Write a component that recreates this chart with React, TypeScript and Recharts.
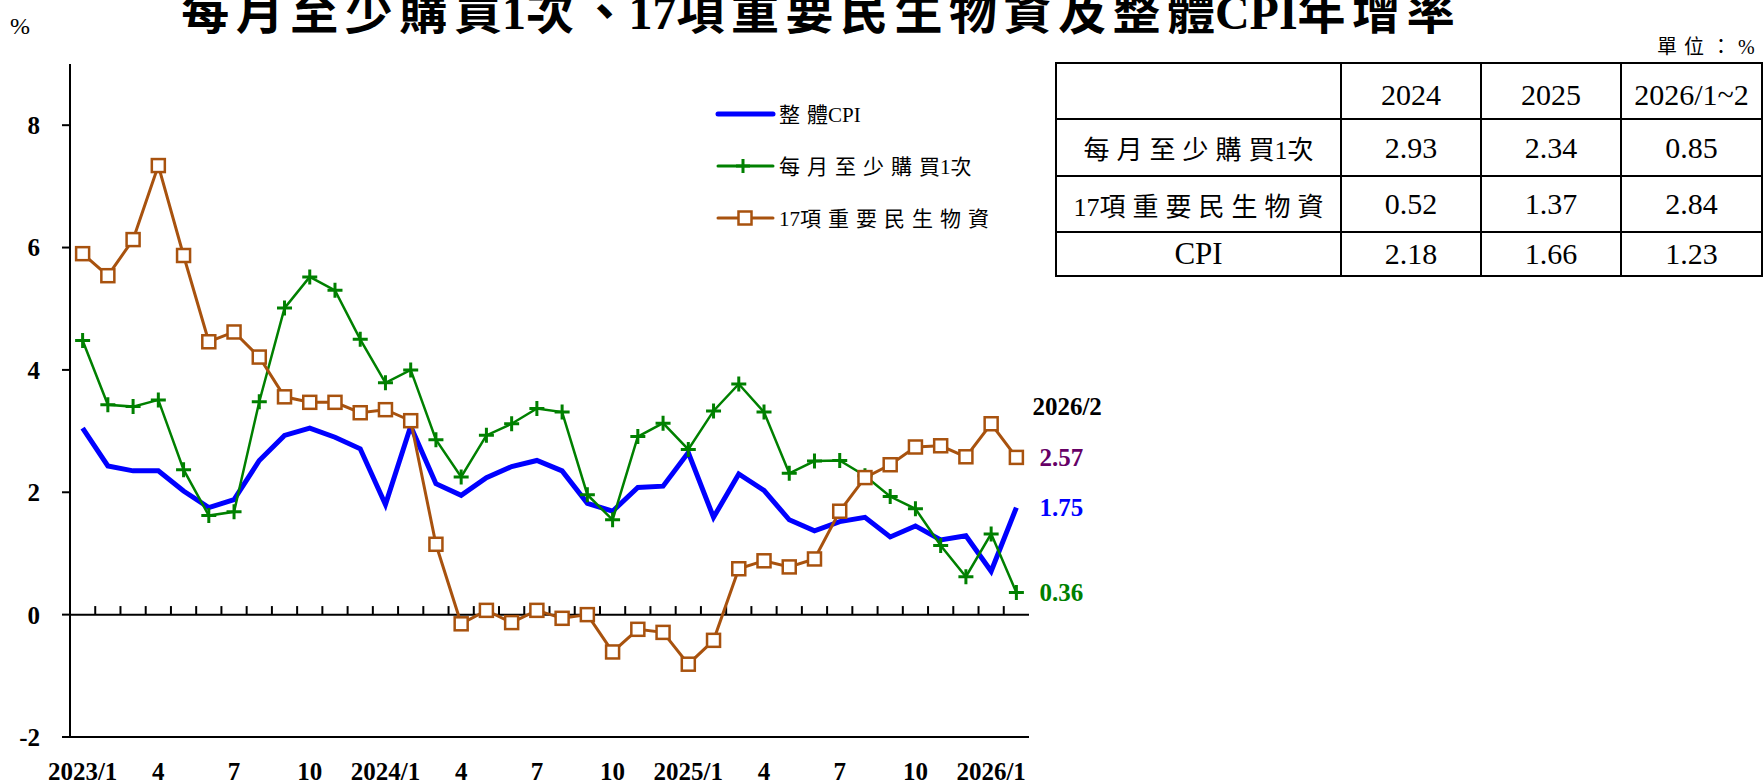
import React from 'react';
import { ComposedChart, Line, XAxis, YAxis, ReferenceLine, LabelList } from 'recharts';

// ---------- data ----------
const months = [
  '2023/1', '2023/2', '2023/3', '2023/4', '2023/5', '2023/6', '2023/7', '2023/8', '2023/9', '2023/10', '2023/11', '2023/12',
  '2024/1', '2024/2', '2024/3', '2024/4', '2024/5', '2024/6', '2024/7', '2024/8', '2024/9', '2024/10', '2024/11', '2024/12',
  '2025/1', '2025/2', '2025/3', '2025/4', '2025/5', '2025/6', '2025/7', '2025/8', '2025/9', '2025/10', '2025/11', '2025/12',
  '2026/1', '2026/2',
];

// 整體CPI
const cpiValues = [
  3.05, 2.43, 2.35, 2.35, 2.02, 1.75, 1.88, 2.52, 2.93, 3.05, 2.90, 2.71,
  1.80, 3.08, 2.14, 1.95, 2.24, 2.42, 2.52, 2.35, 1.82, 1.69, 2.08, 2.10,
  2.65, 1.59, 2.30, 2.03, 1.55, 1.37, 1.52, 1.59, 1.27, 1.45, 1.22, 1.29,
  0.71, 1.75,
];

// 每月至少購買1次
const monthlyValues = [
  4.48, 3.43, 3.40, 3.51, 2.37, 1.62, 1.68, 3.48, 5.01, 5.52, 5.30, 4.50,
  3.79, 4.00, 2.86, 2.25, 2.93, 3.12, 3.37, 3.31, 1.96, 1.55, 2.91, 3.13,
  2.70, 3.33, 3.77, 3.31, 2.31, 2.51, 2.52, 2.27, 1.93, 1.73, 1.13, 0.62,
  1.32, 0.36,
];

// 17項重要民生物資
const essentialValues = [
  5.90, 5.54, 6.13, 7.34, 5.87, 4.46, 4.62, 4.21, 3.56, 3.47, 3.47, 3.30,
  3.35, 3.17, 1.15, -0.15, 0.07, -0.13, 0.07, -0.06, 0.00, -0.61, -0.24, -0.29,
  -0.81, -0.42, 0.75, 0.88, 0.78, 0.91, 1.69, 2.24, 2.45, 2.74, 2.76, 2.58,
  3.12, 2.57,
];

const yTicks = [-2, 0, 2, 4, 6, 8];
const yDomain = [-2, 9];

const seriesNames = ['整體CPI', '每月至少購買1次', '17項重要民生物資'];
const lastMonthLabel = '2026/2';

const tableColumns = ['2024', '2025', '2026/1~2'];
const tableRowNames = ['每月至少購買1次', '17項重要民生物資', 'CPI'];
const tableMonthlyRow = [2.93, 2.34, 0.85];
const tableEssentialRow = [0.52, 1.37, 2.84];
const tableCpiRow = [2.18, 1.66, 1.23];

const titleText = '每月至少購買1次、17項重要民生物資及整體CPI年增率';
const unitText = '單位：%';

// ---------- styles ----------
const BLUE = '#0000FF';
const GREEN = '#008000';
const BROWN = '#A8520E';
const PURPLE = '#660066';
const SERIF = "'Liberation Serif', 'Times New Roman', serif";
const MIXED = "'Liberation Serif', 'Noto Sans CJK TC', serif";

const chartData = months.map((m, i) => ({
  month: m,
  cpi: cpiValues[i],
  monthly: monthlyValues[i],
  essential: essentialValues[i],
}));

const lastIndex = months.length - 1;

const formatMonth = (m: string) => (m.endsWith('/1') ? m : m.split('/')[1]);

// letter spacing only between two consecutive CJK glyphs
const isWide = (ch: string) => /[\u3000-\u9fff\uff00-\uffef]/.test(ch);
const splitRuns = (text: string) => {
  const chars = Array.from(text);
  const out: { text: string; spaced: boolean }[] = [];
  chars.forEach((ch, i) => {
    const next = chars[i + 1];
    const spaced = isWide(ch) && next !== undefined && isWide(next);
    const last = out[out.length - 1];
    if (last && last.spaced === spaced) last.text += ch;
    else out.push({ text: ch, spaced });
  });
  return out;
};
const svgRuns = (text: string, ls: number) =>
  splitRuns(text).map((r, i) => (
    <tspan key={i} style={{ letterSpacing: r.spaced ? ls : 0 }}>
      {r.text}
    </tspan>
  ));
const htmlRuns = (text: string, ls: number) =>
  splitRuns(text).map((r, i) => (
    <span key={i} style={{ letterSpacing: r.spaced ? ls : 0 }}>
      {r.text}
    </span>
  ));

const PlusDot = (props: any) => {
  const { cx, cy, index } = props;
  if (cx == null || cy == null) return <g key={`p-${index}`} />;
  const h = 7.5;
  return (
    <path
      key={`p-${index}`}
      d={`M${cx - h},${cy}H${cx + h}M${cx},${cy - h}V${cy + h}`}
      stroke={GREEN}
      strokeWidth={3}
      fill="none"
    />
  );
};

const SquareDot = (props: any) => {
  const { cx, cy, index } = props;
  if (cx == null || cy == null) return <g key={`s-${index}`} />;
  const h = 6.5;
  return (
    <rect
      key={`s-${index}`}
      x={cx - h}
      y={cy - h}
      width={2 * h}
      height={2 * h}
      fill="#fff"
      stroke={BROWN}
      strokeWidth={2.5}
    />
  );
};

const endLabel = (color: string, header?: string) => (props: any) => {
  const { x, y, value, index } = props;
  if (index !== lastIndex || x == null || y == null) return null;
  return (
    <g>
      {header ? (
        <text x={x + 16} y={y - 51} dy="0.35em" fill="#000" fontFamily={SERIF} fontWeight="bold" fontSize={25}>
          {header}
        </text>
      ) : null}
      <text x={x + 23} y={y} dy="0.35em" fill={color} fontFamily={SERIF} fontWeight="bold" fontSize={25}>
        {Number(value).toFixed(2)}
      </text>
    </g>
  );
};

const tickStyle = { fontFamily: SERIF, fontWeight: 'bold' as const, fontSize: 25, fill: '#000' };
const xTickStyle = { fontFamily: SERIF, fontWeight: 'bold' as const, fontSize: 25, fill: '#000' };

const legendItems = [
  { name: seriesNames[0], color: BLUE, width: 5, marker: 'none' },
  { name: seriesNames[1], color: GREEN, width: 3, marker: 'plus' },
  { name: seriesNames[2], color: BROWN, width: 3, marker: 'square' },
];

export default function App() {
  const cellBorder = '2px solid #000';
  const numStyle: React.CSSProperties = { fontFamily: SERIF, fontSize: 30, textAlign: 'center', border: cellBorder, padding: 0 };
  const nameStyle: React.CSSProperties = {
    fontFamily: MIXED,
    fontSize: 26,
    textAlign: 'center',
    border: cellBorder,
    padding: 0,
    whiteSpace: 'nowrap',
  };
  const tableRows = [tableMonthlyRow, tableEssentialRow, tableCpiRow];
  const rowHeights = [57, 56, 44];

  return (
    <div style={{ position: 'absolute', left: 0, top: 0, width: 1764, height: 780, overflow: 'hidden', background: '#fff' }}>
      {/* title, units */}
      <svg width={1764} height={80} style={{ position: 'absolute', left: 0, top: 0 }}>
        <text x={818} y={29} textAnchor="middle" fontFamily={MIXED} fontWeight="bold" fontSize={48} fill="#000">
          {svgRuns(titleText, 6.5)}
        </text>
        <text x={10} y={34} fontFamily={SERIF} fontSize={24} fill="#000">%</text>
        <text x={1657} y={54} fontFamily={MIXED} fontSize={20} letterSpacing={7} fill="#000">
          {unitText}
        </text>
      </svg>

      {/* chart */}
      <div style={{ position: 'absolute', left: 0, top: 0 }}>
        <ComposedChart width={1110} height={780} data={chartData} margin={{ top: 64, right: 81, left: 0, bottom: 0 }}>
          <XAxis
            dataKey="month"
            scale="band"
            height={43}
            interval={2}
            tickFormatter={formatMonth}
            tickLine={false}
            tickSize={0}
            tickMargin={25}
            axisLine={{ stroke: '#000', strokeWidth: 2 }}
            tick={xTickStyle}
          />
          <XAxis
            xAxisId="top"
            orientation="top"
            dataKey="month"
            scale="band"
            height={0}
            tick={false}
            tickLine={false}
            axisLine={{ stroke: '#000', strokeWidth: 2 }}
          />
          <YAxis
            width={70}
            domain={yDomain}
            ticks={yTicks}
            tickSize={8}
            tickMargin={22}
            tickLine={{ stroke: '#000', strokeWidth: 2 }}
            axisLine={{ stroke: '#000', strokeWidth: 2 }}
            tick={tickStyle}
            allowDataOverflow
          />
          <YAxis
            yAxisId="right"
            orientation="right"
            width={0}
            domain={yDomain}
            tick={false}
            tickLine={false}
            axisLine={{ stroke: '#000', strokeWidth: 2 }}
          />
          <ReferenceLine y={0} stroke="#000" strokeWidth={2} />
          {months.slice(1).map((m) => (
            <ReferenceLine
              key={`zt-${m}`}
              position="start"
              segment={[{ x: m, y: 0 }, { x: m, y: 0.14 }]}
              stroke="#000"
              strokeWidth={2}
            />
          ))}
          <Line
            dataKey="cpi"
            name={seriesNames[0]}
            stroke={BLUE}
            strokeWidth={5}
            dot={false}
            activeDot={false}
            isAnimationActive={false}
          >
            <LabelList dataKey="cpi" content={endLabel(BLUE)} />
          </Line>
          <Line
            dataKey="monthly"
            name={seriesNames[1]}
            stroke={GREEN}
            strokeWidth={2.5}
            dot={PlusDot}
            activeDot={false}
            isAnimationActive={false}
          >
            <LabelList dataKey="monthly" content={endLabel(GREEN)} />
          </Line>
          <Line
            dataKey="essential"
            name={seriesNames[2]}
            stroke={BROWN}
            strokeWidth={3}
            dot={SquareDot}
            activeDot={false}
            isAnimationActive={false}
          >
            <LabelList dataKey="essential" content={endLabel(PURPLE, lastMonthLabel)} />
          </Line>
        </ComposedChart>
      </div>

      {/* legend */}
      <svg width={340} height={160} style={{ position: 'absolute', left: 700, top: 80 }}>
        {legendItems.map((it, i) => {
          const y = 34 + i * 52;
          return (
            <g key={it.name}>
              <line x1={18} x2={73} y1={y} y2={y} stroke={it.color} strokeWidth={it.width} strokeLinecap="round" />
              {it.marker === 'plus' ? (
                <path d={`M${36},${y}H${50}M${43},${y - 7}V${y + 7}`} stroke={it.color} strokeWidth={3} />
              ) : null}
              {it.marker === 'square' ? (
                <rect x={38.5} y={y - 6.5} width={13} height={13} fill="#fff" stroke={it.color} strokeWidth={2.5} />
              ) : null}
              <text x={79} y={y} dy="0.36em" fontFamily={MIXED} fontSize={21} fill="#000">
                {svgRuns(it.name, 7)}
              </text>
            </g>
          );
        })}
      </svg>

      {/* table */}
      <table
        style={{
          position: 'absolute',
          left: 1055,
          top: 62,
          borderCollapse: 'collapse',
          tableLayout: 'fixed',
          width: 706,
        }}
      >
        <colgroup>
          <col style={{ width: 285 }} />
          <col style={{ width: 140 }} />
          <col style={{ width: 140 }} />
          <col style={{ width: 141 }} />
        </colgroup>
        <tbody>
          <tr style={{ height: 56 }}>
            <td style={{ border: cellBorder, padding: 0 }} />
            {tableColumns.map((c) => (
              <td key={c} style={{ ...numStyle, verticalAlign: 'bottom', paddingBottom: 6 }}>{c}</td>
            ))}
          </tr>
          {tableRowNames.map((name, r) => (
            <tr key={name} style={{ height: rowHeights[r] }}>
              <td style={r === 2 ? { ...numStyle, fontSize: 31 } : nameStyle}>{htmlRuns(name, 7)}</td>
              {tableRows[r].map((v, j) => (
                <td key={j} style={numStyle}>{v.toFixed(2)}</td>
              ))}
            </tr>
          ))}
        </tbody>
      </table>
    </div>
  );
}
